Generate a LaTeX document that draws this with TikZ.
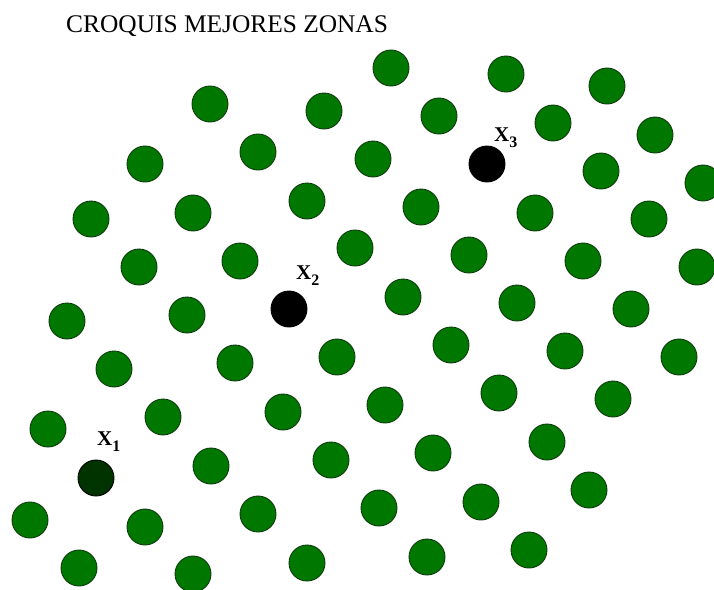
\documentclass[tikz,border=0pt]{standalone}
\usepackage{fontspec}
\setmainfont{Liberation Serif}
\usepackage{xcolor}
\usepackage{tikz}
\definecolor{zonegreen}{HTML}{007800}
\definecolor{darkzone}{HTML}{003300}
\definecolor{rim}{HTML}{0D3B0D}
\tikzstyle{zone}=[circle,draw=rim,line width=0.9pt,fill=zonegreen,minimum size=36pt,inner sep=0pt]
\tikzstyle{best}=[zone,draw=black,fill=black]
\tikzstyle{lab}=[anchor=base west,inner sep=0pt,font=\fontsize{21}{21}\selectfont\bfseries]
\newcommand{\zsub}[1]{\raisebox{-6pt}{\fontsize{16}{16}\selectfont #1}}

\begin{document}
\begin{tikzpicture}[x=1pt,y=-1pt]
  \useasboundingbox (0,0) rectangle (714,589);
  \clip (0,0) rectangle (714,589);
  \node[anchor=base west,inner sep=0pt,font=\fontsize{25.4}{25.4}\selectfont] (title) at (66,32) {CROQUIS MEJORES ZONAS};
  % candidate zones
  \foreach \x/\y [count=\i] in {391/68, 506/74, 607/86, 210/104, 324/111, 439/116, 553/123, 655/135,
      145/164, 258/152, 373/159, 601/171, 703/183, 91/219, 193/213, 307/201, 421/207, 535/213, 649/219,
      139/267, 240/261, 355/248, 469/255, 583/261, 697/267, 67/321, 187/315, 403/297, 517/303, 631/309,
      114/369, 235/363, 337/357, 451/345, 565/351, 679/357, 48/429, 163/417, 283/412, 385/405, 499/393, 613/399,
      211/466, 331/460, 433/453, 547/442, 30/520, 145/527, 258/514, 379/508, 481/502, 589/490,
      79/568, 193/574, 307/563, 427/557, 529/550}
    \node[zone] (z\i) at (\x,\y) {};
  % best zones
  \node[best,fill=darkzone] (x1) at (96,478) {};
  \node[best] (x2) at (289,309) {};
  \node[best] (x3) at (487,164) {};
  \node[lab] (lx1) at (97,445) {X\zsub{1}};
  \node[lab] (lx2) at (296,279) {X\zsub{2}};
  \node[lab] (lx3) at (494,141) {X\zsub{3}};
\end{tikzpicture}
\end{document}
